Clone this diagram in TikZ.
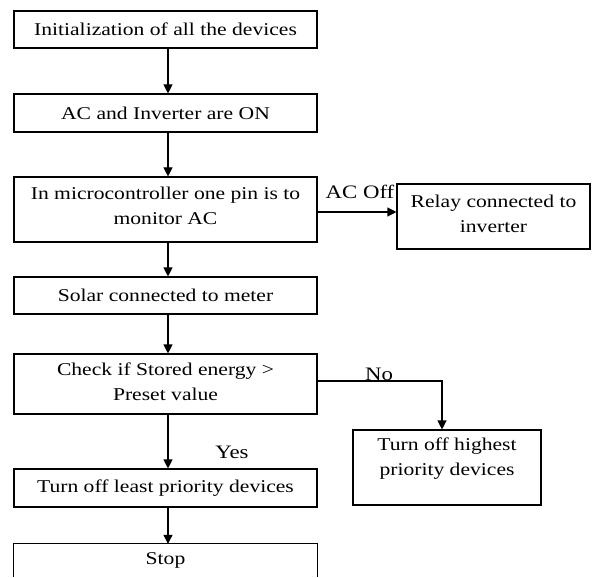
\documentclass[tikz,border=0pt]{standalone}
\usepackage{fontspec}
\setmainfont{Liberation Serif}[FakeStretch=1.2]
\usetikzlibrary{arrows.meta}
\begin{document}
\begin{tikzpicture}[x=1pt,y=1pt,
  box/.style={draw, line width=1.1pt, inner sep=0pt, align=center,
    font=\fontsize{18}{25}\selectfont},
  txt/.style={inner sep=0pt, align=center, font=\fontsize{18}{25}\selectfont},
  lbl/.style={inner sep=0pt, font=\fontsize{19}{20}\selectfont},
  arr/.style={line width=1.1pt, -{Triangle[length=9pt,width=9pt]}},
  ln/.style={line width=1.1pt}]
\useasboundingbox (0,0) rectangle (593,-577);

% main column
\node[box, minimum width=303pt, minimum height=37pt] (b1) at (165.5,-29.5) {Initialization of all the devices};
\node[box, minimum width=303pt, minimum height=38pt] (b2) at (165.5,-113) {AC and Inverter are ON};
\node[box, minimum width=303pt, minimum height=65pt] (b3) at (165.5,-209.5) {};
\node[txt] (t3) at (165.5,-205.5) {In microcontroller one pin is to\\monitor AC};
\node[box, minimum width=303pt, minimum height=37pt] (b5) at (165.5,-295.5) {Solar connected to meter};
\node[box, minimum width=303pt, minimum height=60pt] (b6) at (165.5,-384) {};
\node[txt] (t6) at (165.5,-382) {Check if Stored energy >\\Preset value};
\node[box, minimum width=303pt, minimum height=38pt] (b8) at (165.5,-488) {Turn off least priority devices};
\node[inner sep=0pt, minimum width=303pt, minimum height=33pt] (b9) at (165.5,-560.5) {};
\node[txt] (t9) at (165.5,-560) {Stop};
\draw[ln] (b9.south west) -- (b9.north west) -- (b9.north east) -- (b9.south east);

% side boxes
\node[box, minimum width=193pt, minimum height=65pt] (b4) at (493.5,-216.5) {};
\node[txt] (t4) at (493.5,-213.5) {Relay connected to\\inverter};
\node[box, minimum width=188pt, minimum height=75pt] (b7) at (447,-467.5) {};
\node[txt] (t7) at (447,-459) {Turn off highest\\priority devices};

% connectors
\coordinate (ax) at (168,0);
\draw[arr] (b1.south -| ax) -- (b2.north -| ax);
\draw[arr] (b2.south -| ax) -- (b3.north -| ax);
\draw[arr] (b3.south -| ax) -- (b5.north -| ax);
\draw[arr] (b5.south -| ax) -- (b6.north -| ax);
\draw[arr] (b6.south -| ax) -- (b8.north -| ax);
\draw[arr] (b8.south -| ax) -- (b9.north -| ax);

\coordinate (acy) at (0,-212);
\draw[arr] (b3.east |- acy) -- (b4.west |- acy);
\node[lbl] (acoff) at (360,-192) {AC Off};

\coordinate (nox) at (442,-381);
\draw[arr] (b6.east |- nox) -- (nox) -- (nox |- b7.north);
\node[lbl] (no) at (379,-374) {No};
\node[lbl] (yes) at (232,-452) {Yes};
\end{tikzpicture}
\end{document}
